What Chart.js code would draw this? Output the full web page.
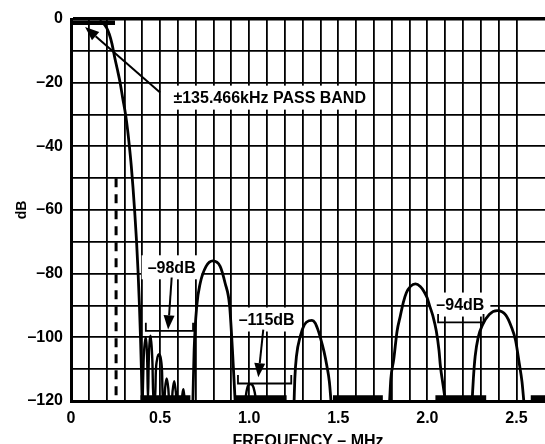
<!DOCTYPE html>
<html><head><meta charset="utf-8">
<script src="https://cdn.jsdelivr.net/npm/chart.js@4/dist/chart.umd.min.js"></script>
<style>html,body{margin:0;padding:0;background:#fff;overflow:hidden}</style>
</head><body>
<canvas id="c" width="545" height="444"></canvas>
<script>
// ---- data (frequency MHz, level dB) ----
const xTickLabels = ['0', '0.5', '1.0', '1.5', '2.0', '2.5'];
const yTickLabels = ['–120', '–100', '–80', '–60', '–40', '–20', '0'];

const passBand = [[0, -1.2], [0.247, -1.2]];
const mainResponse = [[0.16,-0.5],[0.18,-1.3],[0.2,-2.8],[0.215,-4.8],[0.23,-7.8],[0.245,-12],[0.26,-15.8],[0.275,-19.8],[0.29,-24.8],[0.307,-30.3],[0.318,-35],[0.328,-40.2],[0.338,-46],[0.348,-53],[0.358,-61],[0.368,-70],[0.376,-79],[0.384,-90],[0.39,-100],[0.395,-110],[0.399,-120]];
const nearSidelobes = [[0.402,-120],[0.407,-108],[0.418,-100],[0.428,-108],[0.432,-120],[0.436,-108],[0.447,-99.5],[0.457,-108],[0.462,-120],[0.472,-120],[0.476,-111],[0.483,-107],[0.494,-105.3],[0.505,-107],[0.511,-111],[0.515,-120],[0.524,-120],[0.528,-116],[0.537,-112.9],[0.546,-116],[0.551,-120],[0.566,-120],[0.57,-117],[0.579,-113.8],[0.588,-117],[0.594,-120],[0.622,-120],[0.625,-118],[0.63,-116.3],[0.635,-118],[0.64,-120]];
const lobe08 = [[0.684,-120],[0.691,-104],[0.706,-90],[0.725,-83],[0.758,-77.7],[0.796,-76],[0.837,-77.7],[0.865,-83],[0.89,-90],[0.906,-104],[0.921,-120]];
const lobe10 = [[0.978,-120],[0.985,-117],[0.995,-115],[1.006,-114.7],[1.018,-115],[1.03,-117],[1.039,-120]];
const lobe135 = [[1.252,-120],[1.256,-113],[1.265,-106],[1.287,-99.6],[1.31,-96],[1.335,-94.8],[1.352,-94.7],[1.37,-95.5],[1.385,-97.5],[1.399,-100],[1.42,-104.5],[1.436,-109],[1.45,-114],[1.459,-120]];
const lobe195 = [[1.788,-120],[1.795,-113],[1.811,-107],[1.83,-98],[1.848,-93.3],[1.865,-89],[1.882,-86],[1.905,-84],[1.933,-83.2],[1.96,-84],[1.98,-85.5],[1.998,-87.5],[2.015,-90.5],[2.032,-93.5],[2.05,-98],[2.065,-104],[2.073,-109],[2.088,-115],[2.101,-120]];
const lobe24 = [[2.251,-120],[2.258,-113],[2.268,-106],[2.285,-100],[2.31,-96],[2.347,-92.8],[2.392,-91.6],[2.44,-93],[2.47,-96.5],[2.495,-101],[2.515,-108],[2.531,-114],[2.541,-120]];
const noiseFloor = [[0.39,-119],[0.67,-119],[0.67,null],[0.92,-119],[1.21,-119],[1.21,null],[1.47,-119],[1.75,-119],[1.75,null],[2.045,-119],[2.33,-119],[2.33,null],[2.58,-119],[2.66,-119]];
const cutoffMarker = [[0.253,-50],[0.253,-120]];
const bracket98 = [[0.42,-95.4],[0.42,-98],[0.685,-98],[0.685,-95.4]];
const bracket115 = [[0.937,-111.8],[0.937,-114.5],[1.236,-114.5],[1.236,-111.8]];
const bracket94 = [[2.06,-92.7],[2.06,-95.3],[2.315,-95.3],[2.315,-92.7]];

const noteTexts = ['±135.466kHz PASS BAND', '–98dB', '–115dB', '–94dB'];
const noteAt = [[1.115,-24.7],[0.565,-78],[1.098,-94.4],[2.185,-89.7]];
const arrowFrom = [[0.5,-23.1],[0.565,-81.2],[1.079,-97.6]];
const arrowTo = [[0.079,-2.5],[0.545,-97.5],[1.051,-112.5]];

const pts = a => a.map(p => ({x: p[0], y: p[1]}));
const FONT = "'Liberation Sans', Arial, Helvetica, sans-serif";

function curve(data, w) {
  return {data: pts(data), borderColor: '#000', borderWidth: w || 2.8, pointRadius: 0,
          cubicInterpolationMode: 'monotone', fill: false, spanGaps: false};
}
function straight(data, w, dash) {
  return {data: pts(data), borderColor: '#000', borderWidth: w, pointRadius: 0, tension: 0,
          fill: false, spanGaps: false, borderDash: dash || [], borderCapStyle: 'butt'};
}

const notesPlugin = {
  id: 'notes',
  beforeDatasetsDraw(chart) {
    const {ctx, scales: {x, y}} = chart;
    ctx.save();
    ctx.font = 'bold 16px ' + FONT;
    ctx.textAlign = 'center';
    ctx.textBaseline = 'middle';
    noteTexts.forEach((t, i) => {
      const px = x.getPixelForValue(noteAt[i][0]);
      const py = y.getPixelForValue(noteAt[i][1]);
      const w = ctx.measureText(t).width;
      ctx.fillStyle = '#fff';
      ctx.fillRect(px - w / 2 - 6, py - 12, w + 12, 24);
      ctx.fillStyle = '#000';
      ctx.fillText(t, px, py + 1);
    });
    ctx.strokeStyle = '#000';
    ctx.fillStyle = '#000';
    ctx.lineWidth = 2;
    arrowFrom.forEach((f, i) => {
      const x1 = x.getPixelForValue(f[0]), y1 = y.getPixelForValue(f[1]);
      const x2 = x.getPixelForValue(arrowTo[i][0]), y2 = y.getPixelForValue(arrowTo[i][1]);
      const ang = Math.atan2(y2 - y1, x2 - x1);
      const L = 14, H = 5.5;
      const bx = x2 - L * Math.cos(ang), by = y2 - L * Math.sin(ang);
      ctx.beginPath(); ctx.moveTo(x1, y1); ctx.lineTo(bx, by); ctx.stroke();
      ctx.beginPath();
      ctx.moveTo(x2, y2);
      ctx.lineTo(bx + H * Math.sin(ang), by - H * Math.cos(ang));
      ctx.lineTo(bx - H * Math.sin(ang), by + H * Math.cos(ang));
      ctx.closePath(); ctx.fill();
    });
    ctx.restore();
  }
};

new Chart(document.getElementById('c'), {
  type: 'line',
  data: {
    datasets: [
      straight(passBand, 4.5),
      curve(mainResponse),
      curve(nearSidelobes, 2.4),
      curve(lobe08), curve(lobe10, 2.4), curve(lobe135), curve(lobe195), curve(lobe24),
      straight(noiseFloor, 5),
      straight(cutoffMarker, 3, [9, 7]),
      straight(bracket98, 1.8), straight(bracket115, 1.8), straight(bracket94, 1.8)
    ]
  },
  options: {
    responsive: false,
    animation: false,
    devicePixelRatio: 1,
    layout: {padding: {top: 19, right: 0, left: 0, bottom: 0}},
    plugins: {legend: {display: false}, tooltip: {enabled: false}},
    scales: {
      x: {
        type: 'linear', min: 0, max: 2.66,
        ticks: {
          stepSize: 0.1, autoSkip: false, maxRotation: 0, padding: 8, color: '#000',
          font: {family: FONT, size: 16, weight: 'bold'},
          callback: v => {
            const k = Math.round(v * 10);
            return (Math.abs(v * 10 - k) < 1e-6 && k % 5 === 0) ? xTickLabels[k / 5] : '';
          }
        },
        afterBuildTicks: s => { s.ticks = s.ticks.filter(t => Math.abs(t.value * 10 - Math.round(t.value * 10)) < 1e-6); },
        afterFit: s => { s.height = 43; },
        grid: {color: '#000', lineWidth: 1.8, drawTicks: false},
        border: {display: true, color: '#000', width: 3},
        title: {display: true, text: 'FREQUENCY – MHz', color: '#000',
                font: {family: FONT, size: 16, weight: 'bold'}, padding: {top: 0, bottom: -7}}
      },
      y: {
        type: 'linear', min: -120, max: 0,
        ticks: {
          stepSize: 10, autoSkip: false, padding: 8, color: '#000',
          font: {family: FONT, size: 16, weight: 'bold'},
          callback: v => (Math.round(v) % 20 === 0) ? yTickLabels[(Math.round(v) + 120) / 20] : ''
        },
        afterFit: s => { s.width = 71; },
        grid: {color: '#000', lineWidth: c => (c.tick && c.tick.value === 0) ? 3.5 : 1.8, drawTicks: false},
        border: {display: true, color: '#000', width: 3},
        title: {display: true, text: 'dB', color: '#000',
                font: {family: FONT, size: 14, weight: 'bold'}, padding: {top: 14, bottom: 0}}
      }
    }
  },
  plugins: [notesPlugin]
});
</script>
</body></html>
